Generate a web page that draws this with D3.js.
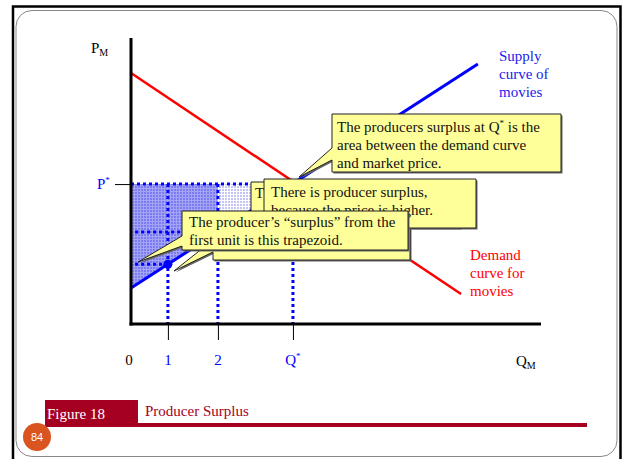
<!DOCTYPE html>
<html><head><meta charset="utf-8">
<script src="https://cdn.jsdelivr.net/npm/d3@7"></script>
<style>
body{margin:0;background:#fff;}
svg{display:block;font-family:"Liberation Serif","Times New Roman",serif;}
</style>
</head><body>
<svg id="c" width="622" height="459"></svg>
<script>
// ---- data (abstract units) ----
const qTickValues = [0.9, 2.12, 3.95];
const qTickLabels = ["1", "2", "Q"];
const qTickStars  = [false, false, true];
const pStar = 4.91;
const qStar = 3.95;
const demandQ = [0, 8.05];
const demandP = [8.81, 1.05];
const supplyQ = [0, 8.46];
const supplyP = [1.26, 9.12];
const firstUnitQ = 0.9;
const secondUnitQ = 2.12;
const supplyLabel = ["Supply", "curve of", "movies"];
const demandLabel = ["Demand", "curve for", "movies"];
const callout1Text = ["The producers surplus at Q", "area between the demand curve", "and market price."];
const callout2Text = ["There is producer surplus,", "because the price is higher."];
const callout3Text = ["The producer\u2019s \u201csurplus\u201d from the", "first unit is this trapezoid."];
const hiddenCalloutText = "T";
const figureLabel = "Figure 18";
const figureTitle = "Producer Surplus";
const pageNumber = "84";

const FS = 15;
const svg = d3.select("#c");
const x = d3.scaleLinear().domain([0, 10]).range([131, 541]);
const y = d3.scaleLinear().domain([0, 10]).range([324, 39]);
const supplyAt = d3.scaleLinear().domain(supplyQ).range(supplyP);
const BLUE = "#0000ff", RED = "#ff0000", YEL = "#ffff99", MAROON = "#a50021";

// frame
svg.append("path").attr("d", "M13,459 V6.5 H620.5 V459").attr("fill", "none").attr("stroke", "#000").attr("stroke-width", 2.5);
svg.append("rect").attr("x", 16).attr("y", 10.5).attr("width", 601).attr("height", 446).attr("rx", 16)
  .attr("fill", "#fff").attr("stroke", "#888").attr("stroke-width", 1);

// patterns
const defs = svg.append("defs");
const pd = defs.append("pattern").attr("id", "dark").attr("width", 3).attr("height", 3).attr("patternUnits", "userSpaceOnUse");
pd.append("rect").attr("width", 3).attr("height", 3).attr("fill", "#a4a4f7");
pd.append("rect").attr("width", 2).attr("height", 2).attr("fill", "#7c7cf0");
const pl = defs.append("pattern").attr("id", "light").attr("width", 3).attr("height", 3).attr("patternUnits", "userSpaceOnUse");
pl.append("rect").attr("width", 3).attr("height", 3).attr("fill", "#ffffff");
pl.append("rect").attr("width", 2).attr("height", 2).attr("fill", "#c4c4f6");

const line = d3.line().x(d => x(d[0])).y(d => y(d[1]));

// shaded surplus areas
svg.append("path").attr("fill", "url(#light)")
  .attr("d", line([[secondUnitQ, pStar], [qStar, pStar], [qStar, supplyAt(qStar)], [secondUnitQ, supplyAt(secondUnitQ)]]) + "Z");
svg.append("path").attr("fill", "url(#dark)")
  .attr("d", line([[0, pStar], [secondUnitQ, pStar], [secondUnitQ, supplyAt(secondUnitQ)], [0, supplyAt(0)]]) + "Z");

// dotted guide lines
const dotted = (pts) => svg.append("path").attr("d", line(pts)).attr("fill", "none")
  .attr("stroke", BLUE).attr("stroke-width", 3).attr("stroke-dasharray", "3,3");
dotted([[0, pStar], [qStar, pStar]]);
dotted([[firstUnitQ, pStar], [firstUnitQ, 0]]);
dotted([[secondUnitQ, pStar], [secondUnitQ, 0]]);
dotted([[qStar, pStar], [qStar, 0]]);
dotted([[0.1, supplyAt(secondUnitQ)], [secondUnitQ, supplyAt(secondUnitQ)]]);
dotted([[0.1, supplyAt(firstUnitQ)], [firstUnitQ, supplyAt(firstUnitQ)]]);

// curves
svg.append("path").attr("d", line(demandQ.map((q, i) => [q, demandP[i]]))).attr("stroke", RED).attr("stroke-width", 2.5).attr("fill", "none");
svg.append("path").attr("d", line(supplyQ.map((q, i) => [q, supplyP[i]]))).attr("stroke", BLUE).attr("stroke-width", 3).attr("fill", "none");
svg.append("circle").attr("cx", x(firstUnitQ)).attr("cy", y(supplyAt(firstUnitQ))).attr("r", 4.5).attr("fill", BLUE);
svg.append("circle").attr("cx", x(qStar)).attr("cy", y(pStar)).attr("r", 4).attr("fill", BLUE);

// axes
const xAxis = svg.append("g").attr("transform", `translate(0,${y(0)})`)
  .call(d3.axisBottom(x).tickValues(qTickValues).tickSize(16).tickFormat(""));
xAxis.select(".domain").remove();
xAxis.selectAll("line").attr("stroke", "#000");
const yAxis = svg.append("g").attr("transform", `translate(${x(0)},0)`)
  .call(d3.axisLeft(y).tickValues([pStar]).tickSize(16).tickFormat(""));
yAxis.select(".domain").remove();
svg.append("line").attr("x1", x(0)).attr("x2", x(0)).attr("y1", 38).attr("y2", y(0) + 1.5).attr("stroke", "#000").attr("stroke-width", 3);
svg.append("line").attr("x1", x(0) - 1.5).attr("x2", 541).attr("y1", y(0)).attr("y2", y(0)).attr("stroke", "#000").attr("stroke-width", 3);

// axis labels
svg.append("text").attr("x", 129).attr("y", 365).attr("text-anchor", "middle").attr("font-size", FS).text("0");
qTickValues.forEach((q, i) => {
  const t = svg.append("text").attr("x", x(q)).attr("y", 365).attr("text-anchor", "middle").attr("font-size", FS).attr("fill", BLUE);
  t.append("tspan").text(qTickLabels[i]);
  if (qTickStars[i]) t.append("tspan").attr("font-size", 9).attr("dy", -6).text("*");
});
const qm = svg.append("text").attr("x", 516).attr("y", 366).attr("font-size", FS);
qm.append("tspan").text("Q"); qm.append("tspan").attr("font-size", 10).attr("dy", 3).text("M");
const pm = svg.append("text").attr("x", 91).attr("y", 53).attr("font-size", FS);
pm.append("tspan").text("P"); pm.append("tspan").attr("font-size", 10).attr("dy", 3).text("M");
const ps = svg.append("text").attr("x", 97).attr("y", y(pStar) + 5).attr("font-size", FS).attr("fill", BLUE);
ps.append("tspan").text("P"); ps.append("tspan").attr("font-size", 9).attr("dy", -6).text("*");

// curve labels
supplyLabel.forEach((s, i) => svg.append("text").attr("x", 499).attr("y", 61 + i * 18).attr("font-size", FS).attr("fill", "#1a1aee").text(s));
demandLabel.forEach((s, i) => svg.append("text").attr("x", 470).attr("y", 260 + i * 18).attr("font-size", FS).attr("fill", RED).text(s));

// callouts
function calloutShape(l, t, r, b, wedge) {
  let d = `M${l},${t} H${r} V${b} H${l}`;
  if (wedge) d += ` V${wedge[3]} L${wedge[1]},${wedge[2]} L${l},${wedge[0]}`;
  return d + " Z";
}
function callout(l, t, r, b, wedge) {
  const d = calloutShape(l, t, r, b, wedge);
  svg.append("path").attr("d", d).attr("transform", "translate(1.5,1.5)").attr("fill", "#666");
  svg.append("path").attr("d", d).attr("fill", YEL).attr("stroke", "#222").attr("stroke-width", 1);
}
function lines(arr, tx, ty, step) {
  arr.forEach((s, i) => svg.append("text").attr("x", tx).attr("y", ty + i * step).attr("font-size", FS).attr("fill", "#111").text(s));
}
// callout 1
callout(332, 114, 561, 172, [148, 299, 177, 160]);
const c1 = svg.append("text").attr("x", 337).attr("y", 132).attr("font-size", FS).attr("fill", "#111");
c1.append("tspan").text(callout1Text[0]);
c1.append("tspan").attr("font-size", 9).attr("dy", -6).text("*");
c1.append("tspan").attr("dy", 6).text(" is the");
lines(callout1Text.slice(1), 337, 150, 17.5);
// hidden boxes behind
callout(251, 182, 460, 228, null);
svg.append("text").attr("x", 255).attr("y", 198).attr("font-size", FS).attr("fill", "#111").text(hiddenCalloutText);
callout(213, 215, 410, 260, [240, 174, 271, 252]);
// callout 2
callout(264, 179, 476, 228, null);
lines(callout2Text, 271, 197, 18);
// callout 3 (drawn on top, covering part of callout 2 as in the original)
callout(182, 211, 408, 250, [236, 138, 262, 246]);
lines(callout3Text, 189, 227, 18);

// footer
svg.append("rect").attr("x", 45).attr("y", 400).attr("width", 93).attr("height", 27).attr("fill", MAROON);
svg.append("rect").attr("x", 138).attr("y", 423).attr("width", 449).attr("height", 4).attr("fill", MAROON);
svg.append("text").attr("x", 47).attr("y", 419).attr("font-size", 15).attr("fill", "#fff").text(figureLabel);
svg.append("text").attr("x", 145).attr("y", 416).attr("font-size", FS).attr("fill", MAROON).text(figureTitle);
svg.append("circle").attr("cx", 37).attr("cy", 437).attr("r", 14).attr("fill", "#d9541e");
svg.append("text").attr("x", 37).attr("y", 441).attr("text-anchor", "middle").attr("font-size", 11)
  .attr("font-family", "Liberation Sans, Arial, sans-serif").attr("fill", "#fff").text(pageNumber);
</script>
</body></html>
